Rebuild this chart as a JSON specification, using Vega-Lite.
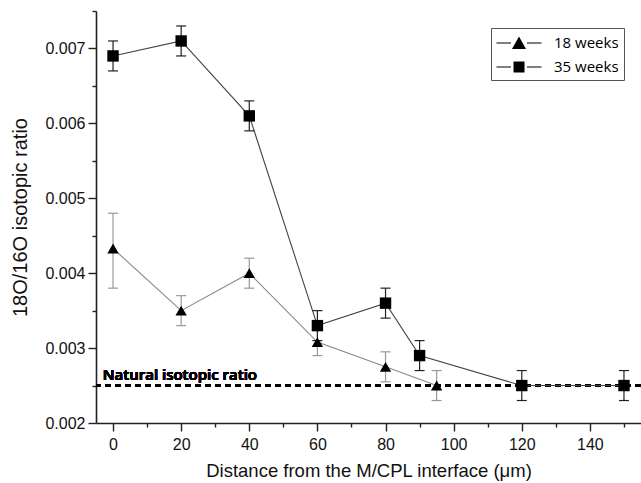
{
  "$schema": "https://vega.github.io/schema/vega-lite/v6.json",
  "autosize": "none",
  "width": 545,
  "height": 412,
  "padding": {"left": 96, "top": 11, "right": 0, "bottom": 60},
  "background": "white",
  "config": {
    "view": {"stroke": null},
    "axis": {
      "domainColor": "#222",
      "domainWidth": 1.6,
      "tickColor": "#222",
      "tickWidth": 1.4,
      "grid": false,
      "labelFont": "Liberation Sans",
      "labelFontSize": 16,
      "labelColor": "#111",
      "titleFont": "Liberation Sans",
      "titleFontWeight": "normal",
      "titleColor": "#111"
    }
  },
  "data": {
    "values": [
      {"series": "18 weeks", "x": 0, "y": 0.00433, "lo": 0.0038, "hi": 0.0048},
      {"series": "18 weeks", "x": 20, "y": 0.0035, "lo": 0.0033, "hi": 0.0037},
      {"series": "18 weeks", "x": 40, "y": 0.004, "lo": 0.0038, "hi": 0.0042},
      {"series": "18 weeks", "x": 60, "y": 0.00308, "lo": 0.0029, "hi": 0.0033},
      {"series": "18 weeks", "x": 80, "y": 0.00275, "lo": 0.00255, "hi": 0.00295},
      {"series": "18 weeks", "x": 95, "y": 0.0025, "lo": 0.0023, "hi": 0.0027},
      {"series": "35 weeks", "x": 0, "y": 0.0069, "lo": 0.0067, "hi": 0.0071},
      {"series": "35 weeks", "x": 20, "y": 0.0071, "lo": 0.0069, "hi": 0.0073},
      {"series": "35 weeks", "x": 40, "y": 0.0061, "lo": 0.0059, "hi": 0.0063},
      {"series": "35 weeks", "x": 60, "y": 0.0033, "lo": 0.0031, "hi": 0.0035},
      {"series": "35 weeks", "x": 80, "y": 0.0036, "lo": 0.0034, "hi": 0.0038},
      {"series": "35 weeks", "x": 90, "y": 0.0029, "lo": 0.0027, "hi": 0.0031},
      {"series": "35 weeks", "x": 120, "y": 0.0025, "lo": 0.0023, "hi": 0.0027},
      {"series": "35 weeks", "x": 150, "y": 0.0025, "lo": 0.0023, "hi": 0.0027}
    ]
  },
  "encoding": {
    "x": {
      "field": "x",
      "type": "quantitative",
      "scale": {"domain": [-5, 155], "nice": false, "zero": false},
      "axis": {
        "title": "Distance from the M/CPL interface (μm)",
        "titleFontSize": 18.5,
        "titlePadding": 9,
        "values": [0, 10, 20, 30, 40, 50, 60, 70, 80, 90, 100, 110, 120, 130, 140, 150],
        "labelExpr": "datum.value % 20 === 0 ? datum.label : ''",
        "tickSize": {"condition": {"test": "datum.value % 20 === 0", "value": 8}, "value": 4},
        "labelPadding": 5,
        "labelFlush": false
      }
    },
    "y": {
      "field": "y",
      "type": "quantitative",
      "scale": {"domain": [0.002, 0.0075], "nice": false, "zero": false},
      "axis": {
        "title": "18O/16O isotopic ratio",
        "titleFontSize": 20,
        "titlePadding": 14,
        "values": [0.002, 0.0025, 0.003, 0.0035, 0.004, 0.0045, 0.005, 0.0055, 0.006, 0.0065, 0.007, 0.0075],
        "format": ".3f",
        "labelExpr": "abs(datum.value*1000 - round(datum.value*1000)) < 0.01 ? datum.label : ''",
        "tickSize": {"condition": {"test": "abs(datum.value*1000 - round(datum.value*1000)) < 0.01", "value": 8}, "value": 4},
        "labelPadding": 3,
        "labelFlush": false
      }
    }
  },
  "layer": [
    {
      "mark": {"type": "rule", "strokeDash": [6, 4], "strokeWidth": 2.5, "color": "#000"},
      "encoding": {"x": null, "y": {"datum": 0.0025, "type": "quantitative"}}
    },
    {
      "mark": {"type": "text", "font": "Open Sans", "fontSize": 15, "fontWeight": 600, "align": "left", "baseline": "alphabetic", "dy": -6, "color": "#000"},
      "encoding": {
        "x": {"datum": -3, "type": "quantitative"},
        "y": {"datum": 0.0025, "type": "quantitative"},
        "text": {"value": "Natural isotopic ratio"}
      }
    },
    {
      "transform": [{"filter": "datum.series === '18 weeks'"}],
      "layer": [
        {"mark": {"type": "line", "strokeWidth": 1.1, "color": "#888888"}},
        {"mark": {"type": "rule", "strokeWidth": 1.2, "color": "#999999"}, "encoding": {"y": {"field": "lo", "type": "quantitative"}, "y2": {"field": "hi"}}},
        {"mark": {"type": "tick", "orient": "horizontal", "size": 10, "thickness": 1.2, "opacity": 1, "color": "#999999"}, "encoding": {"y": {"field": "lo", "type": "quantitative"}}},
        {"mark": {"type": "tick", "orient": "horizontal", "size": 10, "thickness": 1.2, "opacity": 1, "color": "#999999"}, "encoding": {"y": {"field": "hi", "type": "quantitative"}}}
      ]
    },
    {
      "transform": [{"filter": "datum.series === '35 weeks'"}],
      "layer": [
        {"mark": {"type": "line", "strokeWidth": 1.1, "color": "#444444"}},
        {"mark": {"type": "rule", "strokeWidth": 1.2, "color": "#222222"}, "encoding": {"y": {"field": "lo", "type": "quantitative"}, "y2": {"field": "hi"}}},
        {"mark": {"type": "tick", "orient": "horizontal", "size": 10, "thickness": 1.2, "opacity": 1, "color": "#222222"}, "encoding": {"y": {"field": "lo", "type": "quantitative"}}},
        {"mark": {"type": "tick", "orient": "horizontal", "size": 10, "thickness": 1.2, "opacity": 1, "color": "#222222"}, "encoding": {"y": {"field": "hi", "type": "quantitative"}}}
      ]
    },
    {
      "mark": {"type": "point", "filled": true, "opacity": 1, "color": "#000", "strokeWidth": 0, "size": 130},
      "encoding": {
        "shape": {
          "field": "series",
          "type": "nominal",
          "scale": {"domain": ["18 weeks", "35 weeks"], "range": ["triangle-up", "square"]},
          "legend": null
        }
      }
    },
    {
      "transform": [{"filter": "false"}],
      "mark": {"type": "point", "filled": true, "opacity": 1, "color": "#000", "strokeWidth": 0},
      "encoding": {
        "shape": {
          "field": "series",
          "type": "nominal",
          "scale": {
            "domain": ["18 weeks", "35 weeks"],
            "range": [
              "M-2.25,-0.055H-0.8V0.055H-2.25ZM0.8,-0.055H2.25V0.055H0.8ZM0,-0.65L0.7,0.6L-0.7,0.6Z",
              "M-2.25,-0.055H-0.8V0.055H-2.25ZM0.8,-0.055H2.25V0.055H0.8ZM-0.55,-0.55H0.55V0.55H-0.55Z"
            ]
          },
          "legend": {
            "title": null,
            "orient": "none",
            "legendX": 395,
            "legendY": 17,
            "padding": 5,
            "strokeColor": "#555",
            "fillColor": "white",
            "symbolSize": 400,
            "symbolOffset": 13,
            "symbolFillColor": "#000",
            "symbolStrokeWidth": 0,
            "symbolOpacity": 1,
            "labelFont": "Open Sans",
            "labelFontSize": 15,
            "labelFontWeight": 500,
            "labelColor": "#000",
            "labelOffset": 25,
            "rowPadding": 6
          }
        }
      }
    }
  ],
  "resolve": {"scale": {"shape": "independent"}}
}
